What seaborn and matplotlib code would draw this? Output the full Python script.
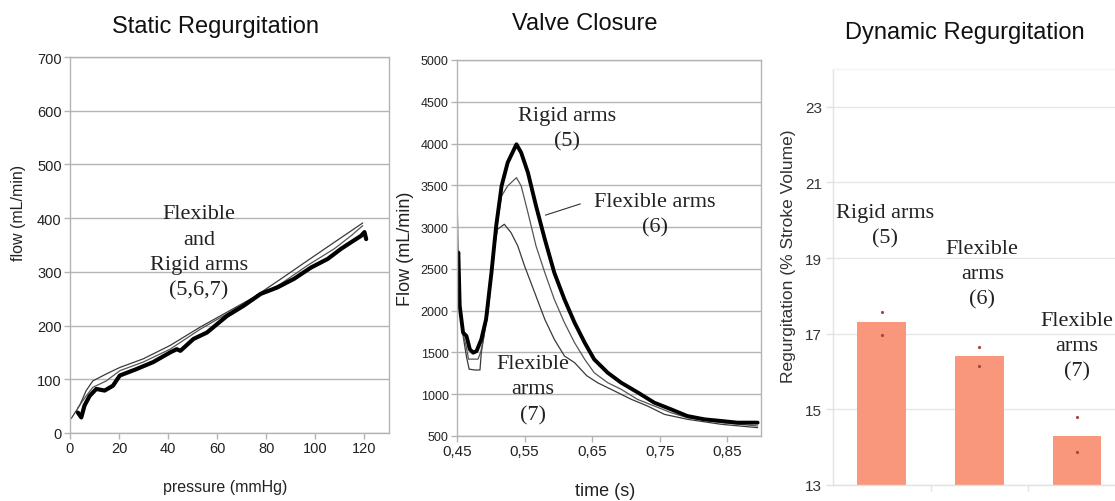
import numpy as np
import pandas as pd
import matplotlib
matplotlib.use("Agg")
import matplotlib.pyplot as plt
import seaborn as sns
from matplotlib.ticker import FixedLocator, FixedFormatter

# ---------------- data ----------------
# Static regurgitation: flow (mL/min) vs pressure (mmHg)
static_rigid_p = [3.2, 4.6, 5.9, 8.0, 10.7, 14.1, 17.5, 20.3, 27.1, 33.9, 40.8, 43.5, 45.0,
                  50.3, 55.8, 64.0, 70.8, 77.7, 84.5, 91.3, 98.2, 105.0, 110.5, 114.5,
                  118.6, 120.0, 120.7]
static_rigid_f = [38, 29, 51, 69, 82, 79, 88, 107, 119, 132, 150, 156, 153,
                  175, 187, 218, 237, 259, 271, 287, 308, 324, 343, 355,
                  367, 374, 361]
static_flex6_p = [3.2, 6.6, 9.3, 14.8, 20.3, 29.8, 40.8, 53.0, 64.0, 75.0, 86.0, 96.8,
                  107.7, 114.5, 119.3]
static_flex6_f = [47, 69, 85, 97, 116, 132, 156, 193, 222, 251, 278, 312, 343, 367, 386]
static_flex7_p = [0.5, 3.9, 6.6, 9.3, 14.8, 20.3, 29.8, 40.8, 53.0, 64.0, 75.0, 86.0,
                  96.8, 107.7, 119.3]
static_flex7_f = [27, 51, 79, 97, 110, 122, 138, 163, 197, 225, 253, 287, 321, 355, 391]

# Valve closure: flow (mL/min) vs time (s)
vc_rigid_t = [0.450, 0.452, 0.454, 0.459, 0.464, 0.469, 0.474, 0.479, 0.486, 0.493, 0.501,
              0.508, 0.516, 0.525, 0.538, 0.545, 0.555, 0.567, 0.580, 0.594, 0.609, 0.624,
              0.639, 0.653, 0.673, 0.693, 0.718, 0.742, 0.767, 0.791, 0.816, 0.841, 0.865,
              0.895]
vc_rigid_f = [2595, 2695, 2056, 1737, 1697, 1537, 1497, 1517, 1657, 1896, 2455,
              3014, 3493, 3772, 3991, 3891, 3652, 3253, 2854, 2455, 2136, 1857,
              1617, 1418, 1258, 1138, 1019, 899, 819, 739, 700, 680, 660,
              660]
vc_flex6_t = [0.450, 0.452, 0.454, 0.459, 0.464, 0.467, 0.476, 0.481, 0.485, 0.490, 0.496,
              0.506, 0.516, 0.525, 0.538, 0.545, 0.555, 0.567, 0.580, 0.594, 0.609, 0.624,
              0.639, 0.653, 0.673, 0.693, 0.717, 0.742, 0.767, 0.791, 0.841, 0.895]
vc_flex6_f = [3400, 2600, 2050, 1720, 1560, 1420, 1420, 1420, 1500, 1700, 1976,
              2854, 3373, 3493, 3592, 3493, 3173, 2774, 2455, 2136, 1857, 1617,
              1418, 1258, 1138, 1059, 939, 859, 779, 719, 660, 620]
vc_flex7_t = [0.450, 0.454, 0.459, 0.464, 0.468, 0.476, 0.484, 0.486, 0.490, 0.496, 0.503,
              0.510, 0.520, 0.530, 0.540, 0.550, 0.565, 0.580, 0.594, 0.609, 0.624, 0.642,
              0.658, 0.683, 0.708, 0.732, 0.757, 0.791, 0.841, 0.895]
vc_flex7_f = [2500, 2000, 1700, 1450, 1300, 1290, 1290, 1500, 1700, 2056, 2655,
              2974, 3034, 2934, 2774, 2535, 2216, 1896, 1657, 1458, 1378, 1222,
              1138, 1039, 939, 859, 759, 700, 640, 600]

# Dynamic regurgitation (% stroke volume)
dyn_categories = ["Rigid arms (5)", "Flexible arms (6)", "Flexible arms (7)"]
dyn_means = [17.3, 16.4, 14.3]
dyn_point_cat = ["Rigid arms (5)", "Rigid arms (5)", "Flexible arms (6)", "Flexible arms (6)",
                 "Flexible arms (7)", "Flexible arms (7)"]
dyn_point_val = [17.58, 16.97, 16.65, 16.15, 14.79, 13.87]

# ticks
p1_xticks = [0, 20, 40, 60, 80, 100, 120]
p1_yticks = [0, 100, 200, 300, 400, 500, 600, 700]
p2_xticks = [0.45, 0.55, 0.65, 0.75, 0.85]
p2_xticklabels = ["0,45", "0,55", "0,65", "0,75", "0,85"]
p2_yticks = [500, 1000, 1500, 2000, 2500, 3000, 3500, 4000, 4500, 5000]
p3_yticks = [13, 15, 17, 19, 21, 23]

# ---------------- style ----------------
sns.set_theme(style="white")
plt.rcParams['font.family'] = ['Liberation Sans', 'DejaVu Sans']
SERIF = ['Liberation Serif', 'DejaVu Serif']
LS = 1.45

W, H = 1115, 502
fig = plt.figure(figsize=(W / 100, H / 100), dpi=100)
fig.patch.set_facecolor('white')

def rect(l, t, r, b):
    return [l / W, 1 - b / H, (r - l) / W, (b - t) / H]

GRID = '#b4b4b4'

# ---------------- panel 1 ----------------
ax1 = fig.add_axes(rect(70, 58, 389, 434))
sns.lineplot(x=static_flex7_p, y=static_flex7_f, ax=ax1, color='#3a3a3a', lw=0.9,
             sort=False, estimator=None)
sns.lineplot(x=static_flex6_p, y=static_flex6_f, ax=ax1, color='#555555', lw=0.9,
             sort=False, estimator=None)
sns.lineplot(x=static_rigid_p, y=static_rigid_f, ax=ax1, color='black', lw=3.0,
             sort=False, estimator=None)
ax1.set_xlim(0, 130)
ax1.set_ylim(0, 700)
ax1.xaxis.set_major_locator(FixedLocator(p1_xticks))
ax1.yaxis.set_major_locator(FixedLocator(p1_yticks))
ax1.grid(axis='y', color=GRID, lw=1)
ax1.set_axisbelow(True)
for s in ax1.spines.values():
    s.set_color(GRID); s.set_linewidth(1)
ax1.tick_params(axis='both', which='major', direction='out', length=4, width=1,
                color=GRID, labelsize=10.5, labelcolor='#222222', pad=2,
                bottom=True, left=True)
ax1.set_xlabel('pressure (mmHg)', fontsize=11.5, color='#222222')
ax1.set_ylabel('flow (mL/min)', fontsize=11.5, color='#222222')
ax1.xaxis.set_label_coords(0.486, -0.122)
ax1.yaxis.set_label_coords(-0.138, 0.588)
ax1.text(52.5, 337, 'Flexible\nand\nRigid arms\n(5,6,7)', family=SERIF, fontsize=16,
         ha='center', va='center', linespacing=LS, color='#222222')

# ---------------- panel 2 ----------------
ax2 = fig.add_axes(rect(457, 61, 761, 437))
sns.lineplot(x=vc_flex7_t, y=vc_flex7_f, ax=ax2, color='#3a3a3a', lw=0.9,
             sort=False, estimator=None)
sns.lineplot(x=vc_flex6_t, y=vc_flex6_f, ax=ax2, color='#555555', lw=0.9,
             sort=False, estimator=None)
sns.lineplot(x=vc_rigid_t, y=vc_rigid_f, ax=ax2, color='black', lw=2.8,
             sort=False, estimator=None)
ax2.set_xlim(0.45, 0.9)
ax2.set_ylim(500, 5000)
ax2.xaxis.set_major_locator(FixedLocator(p2_xticks))
ax2.xaxis.set_major_formatter(FixedFormatter(p2_xticklabels))
ax2.yaxis.set_major_locator(FixedLocator(p2_yticks))
ax2.grid(axis='y', color=GRID, lw=1)
ax2.set_axisbelow(True)
for s in ax2.spines.values():
    s.set_color(GRID); s.set_linewidth(1)
ax2.tick_params(axis='both', which='major', direction='out', length=4, width=1,
                color=GRID, labelcolor='#222222', pad=2, bottom=True, left=True)
ax2.tick_params(axis='x', labelsize=11)
ax2.tick_params(axis='y', labelsize=9)
ax2.set_xlabel('time (s)', fontsize=13, color='#222222')
ax2.set_ylabel('Flow (mL/min)', fontsize=13, color='#222222')
ax2.xaxis.set_label_coords(0.487, -0.122)
ax2.yaxis.set_label_coords(-0.141, 0.5)
ax2.text(0.613, 4186, 'Rigid arms\n(5)', family=SERIF, fontsize=16, ha='center',
         va='center', linespacing=LS, color='#222222')
ax2.text(0.743, 3151, 'Flexible arms\n(6)', family=SERIF, fontsize=16, ha='center',
         va='center', linespacing=LS, color='#222222')
ax2.text(0.5625, 1062, 'Flexible\narms\n(7)', family=SERIF, fontsize=16, ha='center',
         va='center', linespacing=LS, color='#222222')
ax2.annotate('', xy=(0.577, 3133), xytext=(0.6365, 3288),
             arrowprops=dict(arrowstyle='-', color='#333333', lw=0.8))

# ---------------- panel 3 ----------------
ax3 = fig.add_axes(rect(833, 70, 1115, 486))
sns.barplot(x=dyn_categories, y=dyn_means, order=dyn_categories, ax=ax3,
            color='#F9977C', saturation=1, width=0.5, errorbar=None, edgecolor='none')
sns.stripplot(x=dyn_point_cat, y=dyn_point_val, order=dyn_categories, ax=ax3,
              jitter=False, color='#a8453c', size=2.3, linewidth=0)
ax3.set_xlim(-0.5, 2.39)
ax3.set_ylim(13, 24)
ax3.yaxis.set_major_locator(FixedLocator(p3_yticks))
ax3.set_xticks([0.5, 1.5])
ax3.set_xticklabels(['', ''])
ax3.grid(axis='y', color='#e6e6e6', lw=1)
ax3.set_axisbelow(True)
for name, s in ax3.spines.items():
    s.set_color('#e2e2e2'); s.set_linewidth(1)
ax3.spines['right'].set_visible(False)
ax3.spines['top'].set_color('#f2f2f2')
ax3.tick_params(axis='y', direction='out', length=5, width=1, color='#e2e2e2',
                labelsize=11, labelcolor='#333333', pad=3, left=True)
ax3.tick_params(axis='x', direction='out', length=4, width=1, color='#e2e2e2',
                bottom=True)
ax3.set_xlabel('')
ax3.set_ylabel('Regurgitation (% Stroke Volume)', fontsize=12.5, color='#333333')
ax3.yaxis.set_label_coords(-0.131, 0.553)
ax3.text(0.03, 19.86, 'Rigid arms\n(5)', family=SERIF, fontsize=16, ha='center',
         va='center', linespacing=LS, color='#222222')
ax3.text(1.03, 18.58, 'Flexible\narms\n(6)', family=SERIF, fontsize=16, ha='center',
         va='center', linespacing=LS, color='#222222')
ax3.text(2.0, 16.68, 'Flexible\narms\n(7)', family=SERIF, fontsize=16, ha='center',
         va='center', linespacing=LS, color='#222222')

# ---------------- titles ----------------
fig.text(216 / W, 1 - 27 / H, 'Static Regurgitation', ha='center', va='center',
         fontsize=17, color='#111111')
fig.text(585 / W, 1 - 24 / H, 'Valve Closure', ha='center', va='center',
         fontsize=17, color='#111111')
fig.text(965 / W, 1 - 33 / H, 'Dynamic Regurgitation', ha='center', va='center',
         fontsize=17, color='#111111')

fig.savefig('out.png', dpi=100, facecolor='white')
